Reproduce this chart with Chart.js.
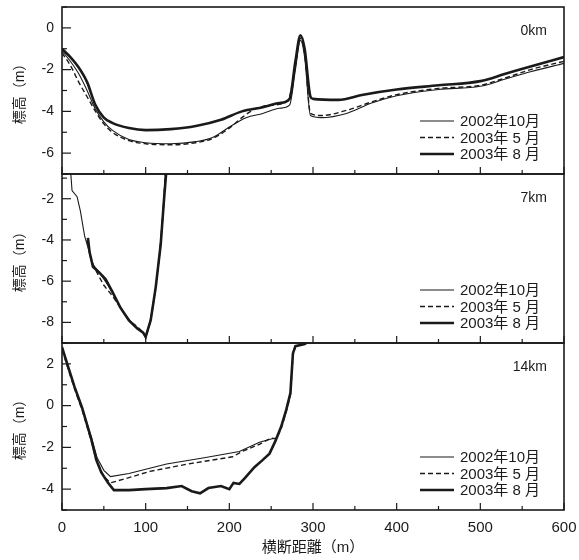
<!DOCTYPE html>
<html><head><meta charset="utf-8">
<script src="https://cdn.jsdelivr.net/npm/chart.js@4/dist/chart.umd.min.js"></script>
<style>
html,body{margin:0;padding:0;background:#fff;width:579px;height:560px;overflow:hidden}
canvas{position:absolute;left:0}
</style></head><body>
<canvas id="c0" width="579" height="177" style="top:0px"></canvas>
<canvas id="c1" width="579" height="175" style="top:172px"></canvas>
<canvas id="c2" width="579" height="219" style="top:341px"></canvas>
<script>
// ---------- data ----------
const seriesLabels = ['2002年10月', '2003年 5 月', '2003年 8 月'];
const panelLabels = ['0km', '7km', '14km'];
const xTicks = [0, 100, 200, 300, 400, 500, 600];
const xMinorTicks = [50, 150, 250, 350, 450, 550];
const yTicks0 = [-6, -4, -2, 0];
const yTicks1 = [-8, -6, -4, -2];
const yTicks2 = [-4, -2, 0, 2];

// 0 km  [distance m, elevation m]
const km0_2002_10 = [[0,-1.1],[10,-1.6],[20,-2.2],[30,-3.0],[40,-3.9],[50,-4.5],[60,-4.9],[80,-5.35],[100,-5.5],[130,-5.55],[160,-5.45],[180,-5.25],[200,-4.75],[220,-4.3],[240,-4.1],[260,-3.85],[272,-3.7],[279,-2.0],[285,-0.6],[290,-1.4],[297,-4.2],[310,-4.3],[340,-4.1],[370,-3.6],[400,-3.25],[450,-2.95],[500,-2.8],[530,-2.45],[560,-2.1],[600,-1.7]];
const km0_2003_05 = [[0,-1.2],[10,-1.8],[20,-2.6],[30,-3.3],[40,-4.0],[50,-4.6],[60,-5.0],[80,-5.4],[100,-5.55],[130,-5.6],[160,-5.5],[180,-5.3],[200,-4.8],[215,-4.3],[230,-3.9],[250,-3.7],[270,-3.5],[279,-1.8],[285,-0.5],[290,-1.2],[297,-4.1],[310,-4.2],[340,-3.95],[370,-3.55],[400,-3.2],[450,-2.9],[500,-2.75],[530,-2.4],[560,-2.0],[600,-1.6]];
const km0_2003_08 = [[0,-1.0],[10,-1.4],[20,-1.9],[30,-2.6],[40,-3.7],[50,-4.3],[60,-4.55],[80,-4.8],[100,-4.9],[130,-4.85],[160,-4.7],[190,-4.4],[215,-4.0],[240,-3.8],[260,-3.6],[272,-3.4],[279,-1.6],[285,-0.35],[290,-1.0],[297,-3.3],[300,-3.4],[330,-3.45],[360,-3.2],[400,-2.95],[450,-2.75],[500,-2.55],[530,-2.2],[560,-1.85],[600,-1.4]];

// 7 km
const km7_2002_10 = [[10,-0.5],[12,-1.6],[18,-1.9],[22,-2.6],[27,-3.8],[32,-4.5],[37,-5.2],[45,-5.6],[55,-6.2],[65,-6.9],[75,-7.6],[85,-8.1],[95,-8.4],[100,-8.7],[106,-7.8],[112,-6.3],[117,-4.5],[121,-2.5],[124,-0.5]];
const km7_2003_05 = [[30,-4.0],[35,-5.0],[42,-5.6],[50,-6.2],[60,-6.7],[70,-7.3],[80,-7.9],[90,-8.2],[97,-8.5],[100,-8.75],[106,-7.9],[112,-6.4],[117,-4.6],[121,-2.6],[124,-0.5]];
const km7_2003_08 = [[31,-3.9],[33,-4.6],[37,-5.3],[45,-5.6],[52,-5.9],[60,-6.5],[70,-7.3],[80,-7.9],[90,-8.3],[97,-8.5],[100,-8.7],[106,-7.9],[112,-6.3],[118,-4.2],[122,-2.0],[125,-0.5]];

// 14 km
const km14_2002_10 = [[0,2.8],[7,1.9],[15,0.9],[24,-0.1],[35,-1.5],[42,-2.5],[50,-3.1],[58,-3.4],[80,-3.25],[125,-2.8],[170,-2.5],[212,-2.2],[236,-1.75],[250,-1.6],[256,-1.55],[262,-1.0],[268,-0.2],[273,0.6],[276,2.5],[279,2.85],[290,2.95],[300,3.2]];
const km14_2003_05 = [[0,2.7],[7,1.8],[15,0.8],[24,-0.2],[35,-1.7],[42,-2.7],[50,-3.4],[58,-3.7],[80,-3.45],[105,-3.15],[150,-2.8],[204,-2.45],[215,-2.2],[236,-1.85],[250,-1.55],[256,-1.6],[262,-1.1],[268,-0.3],[273,0.5],[276,2.4],[279,2.85],[290,2.95],[300,3.2]];
const km14_2003_08 = [[0,2.8],[7,1.9],[15,0.9],[24,-0.1],[35,-1.6],[41,-2.6],[47,-3.2],[55,-3.7],[62,-4.05],[80,-4.05],[100,-4.0],[125,-3.95],[143,-3.85],[155,-4.1],[165,-4.2],[175,-3.95],[190,-3.85],[200,-4.0],[205,-3.7],[212,-3.75],[218,-3.5],[230,-2.95],[240,-2.6],[248,-2.3],[255,-1.7],[262,-1.0],[268,-0.2],[273,0.6],[276,2.5],[279,2.85],[290,2.95],[300,3.2]];

// ---------- rendering ----------
const FONT = "'Liberation Sans','Noto Sans CJK JP',sans-serif";
const INK = '#1a1a1a';
const styles = [
  {borderWidth:1.1, borderDash:[]},
  {borderWidth:1.4, borderDash:[5,3]},
  {borderWidth:2.6, borderDash:[]}
];

function noPad(s) { s.paddingTop = 0; s.paddingBottom = 0; s.paddingLeft = 0; s.paddingRight = 0; }

const framePlugin = {
  id: 'frame',
  afterDraw(chart, args, opts) {
    const {ctx, chartArea:a, scales:{x, y}} = chart;
    ctx.save();
    ctx.strokeStyle = INK;
    ctx.lineWidth = 1.2;
    ctx.setLineDash([]);
    const seg = (x1,y1,x2,y2)=>{ctx.beginPath();ctx.moveTo(x1,y1);ctx.lineTo(x2,y2);ctx.stroke();};
    xTicks.forEach(v=>{const p=x.getPixelForValue(v); seg(p,a.bottom,p,a.bottom-7);});
    xMinorTicks.forEach(v=>{const p=x.getPixelForValue(v); seg(p,a.bottom,p,a.bottom-4);});
    for (let v = Math.ceil(y.min); v <= Math.floor(y.max); v++) {
      const p = y.getPixelForValue(v);
      const major = opts.yTicks.includes(v);
      seg(a.left, p, a.left + (major ? 9 : 5), p);
    }
    ctx.lineWidth = 1.6;
    ctx.strokeRect(a.left, a.top, a.right - a.left, a.bottom - a.top);
    ctx.fillStyle = INK;
    ctx.font = '14px ' + FONT;
    ctx.textAlign = 'right';
    ctx.textBaseline = 'middle';
    ctx.fillText(opts.label, a.right - 17, a.top + 24);
    ctx.font = '15px ' + FONT;
    ctx.textAlign = 'left';
    chart.data.datasets.forEach((ds, i) => {
      const yy = a.bottom - 20 - (2 - i) * 16.5;
      ctx.lineWidth = ds.borderWidth;
      ctx.setLineDash(ds.borderDash || []);
      seg(a.right - 144, yy, a.right - 110, yy);
      ctx.setLineDash([]);
      ctx.fillText(ds.label, a.right - 104, yy + 1);
    });
    ctx.restore();
  }
};

function makeDatasets(arrs, smooth) {
  return arrs.map((arr, i) => ({
    label: seriesLabels[i],
    data: arr.map(p => ({x: p[0], y: p[1]})),
    borderColor: INK,
    borderWidth: styles[i].borderWidth,
    borderDash: styles[i].borderDash,
    pointRadius: 0,
    fill: false,
    cubicInterpolationMode: smooth ? 'monotone' : 'default',
    tension: 0
  }));
}

function yScale(min, max, ticks) {
  return {
    type: 'linear', min, max,
    afterFit(s) { s.width = 62; noPad(s); },
    afterBuildTicks(s) { s.ticks = ticks.map(v => ({value: v})); },
    grid: {display: false, drawTicks: false},
    border: {display: false},
    ticks: {padding: 8, color: INK, font: {family: FONT, size: 14}},
    title: {display: true, text: '標高（m）', color: INK, padding: {top: 12, bottom: 0}, font: {family: FONT, size: 14}}
  };
}

function makeChart(id, arrs, ymin, ymax, yt, label, pad, showX, smooth) {
  const xs = showX ? {
    type: 'linear', min: 0, max: 600,
    afterFit(s) { s.height = 50; noPad(s); },
    afterBuildTicks(s) { s.ticks = xTicks.map(v => ({value: v})); },
    grid: {display: false, drawTicks: false},
    border: {display: false},
    ticks: {padding: 9, color: INK, maxRotation: 0, font: {family: FONT, size: 15}},
    title: {display: true, text: '横断距離（m）', color: INK, padding: {top: 0, bottom: 3}, font: {family: FONT, size: 15}}
  } : {type: 'linear', min: 0, max: 600, display: false, afterFit(s) { noPad(s); }};
  return new Chart(document.getElementById(id), {
    type: 'line',
    data: {datasets: makeDatasets(arrs, smooth)},
    options: {
      responsive: false, animation: false,
      layout: {padding: pad},
      scales: {x: xs, y: yScale(ymin, ymax, yt)},
      plugins: {legend: {display: false}, tooltip: {enabled: false}, frame: {label, yTicks: yt}}
    },
    plugins: [framePlugin]
  });
}

makeChart('c0', [km0_2002_10, km0_2003_05, km0_2003_08], -7, 1, yTicks0, panelLabels[0], {top: 7, right: 15, bottom: 3, left: 0}, false, true);
makeChart('c1', [km7_2002_10, km7_2003_05, km7_2003_08], -9, -0.8, yTicks1, panelLabels[1], {top: 2, right: 15, bottom: 4, left: 0}, false, false);
makeChart('c2', [km14_2002_10, km14_2003_05, km14_2003_08], -5, 3, yTicks2, panelLabels[2], {top: 2, right: 15, bottom: 0, left: 0}, true, false);
</script>
</body></html>
